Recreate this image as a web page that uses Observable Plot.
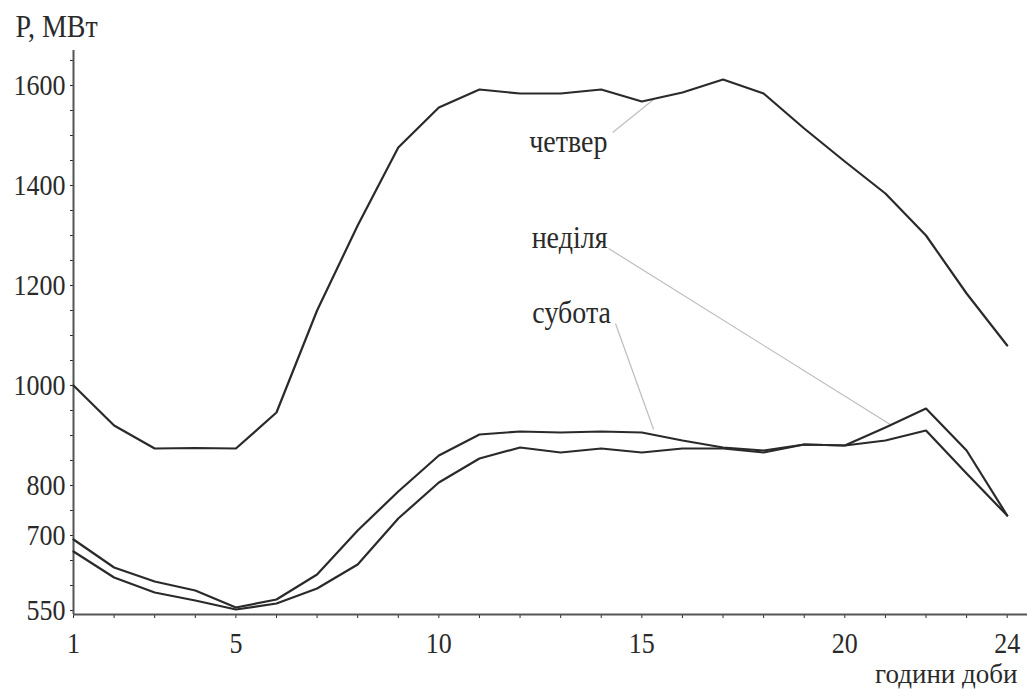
<!DOCTYPE html>
<html>
<head>
<meta charset="utf-8">
<script src="https://cdn.jsdelivr.net/npm/d3@7"></script>
<script src="https://cdn.jsdelivr.net/npm/@observablehq/plot@0.6"></script>
<style>
  html, body { margin: 0; padding: 0; background: #fff; }
  #chart svg { display: block; }
</style>
</head>
<body>
<div id="chart"></div>
<script>
// Hours of the day
const hours = [1,2,3,4,5,6,7,8,9,10,11,12,13,14,15,16,17,18,19,20,21,22,23,24];
// Load, MW
const chetver = [1000,920,874,875,874,946,1150,1320,1476,1556,1592,1584,1584,1592,1568,1586,1612,1584,1514,1448,1384,1300,1184,1080];
const subota  = [692,636,608,590,556,572,622,710,788,860,902,908,906,908,906,890,876,870,882,880,890,910,824,740];
const nedilia = [668,616,586,570,552,564,594,642,734,806,854,876,866,874,866,874,874,866,882,880,916,954,870,740];

const seriesNames = ["четвер", "субота", "неділя"];
const seriesValues = [chetver, subota, nedilia];

// Axis tick labels
const xTickLabels = [1, 5, 10, 15, 20, 24];
const yTickLabels = [550, 700, 800, 1000, 1200, 1400, 1600];
const yMinorStep = 50;

// Annotation labels (hour, MW) and leader lines (from label to curve)
const labelNames = ["четвер", "неділя", "субота"];
const labelX = [13.19, 13.22, 13.27];
const labelY = [1488, 1296, 1146];
const leaderX1 = [14.28, 14.18, 14.35];
const leaderY1 = [1506, 1274, 1124];
const leaderX2 = [15.29, 21.12, 15.29];
const leaderY2 = [1572, 922, 912];

const yLabel = "P, МВт";
const xLabel = "години доби";

const yDomain = [542, 1670];
const xDomain = [1, 24.5];

const rows = [];
seriesNames.forEach((name, si) => {
  hours.forEach((h, i) => rows.push({series: name, hour: h, value: seriesValues[si][i]}));
});
const labels = labelNames.map((n, i) => ({name: n, x: labelX[i], y: labelY[i]}));
const leaders = labelNames.map((n, i) => ({x1: leaderX1[i], y1: leaderY1[i], x2: leaderX2[i], y2: leaderY2[i]}));

const ink = "#2a2a2a";

const chart = Plot.plot({
  width: 1027,
  height: 689,
  marginLeft: 73,
  marginRight: 0,
  marginTop: 50,
  marginBottom: 75,
  style: {fontFamily: "'Liberation Serif', 'Times New Roman', serif", fontSize: "26px", color: ink, background: "#fff"},
  x: {domain: xDomain},
  y: {domain: yDomain},
  marks: [
    Plot.axisX({
      ticks: hours,
      tickSize: 4,
      tickPadding: 13,
      tickFormat: d => xTickLabels.includes(d) ? String(d) : "",
      label: null,
      stroke: ink,
      fontSize: 26
    }),
    Plot.axisY({
      ticks: d3.range(yTickLabels[0], 1651, yMinorStep),
      tickSize: 3,
      tickPadding: 5,
      tickFormat: d => yTickLabels.includes(d) ? String(d) : "",
      label: null,
      stroke: ink,
      fontSize: 26
    }),
    Plot.link(leaders, {x1: "x1", y1: "y1", x2: "x2", y2: "y2", stroke: "#bdbdbd", strokeWidth: 1.2}),
    Plot.ruleY([yDomain[0]], {stroke: "#555", strokeWidth: 2}),
    Plot.ruleX([xDomain[0]], {stroke: "#555", strokeWidth: 2}),
    Plot.line(rows, {x: "hour", y: "value", z: "series", stroke: ink, strokeWidth: 2.2, strokeLinejoin: "round"}),
    Plot.text(labels, {x: "x", y: "y", text: "name", fill: ink, fontSize: 28, textAnchor: "middle", lineAnchor: "middle"}),
    Plot.text([yLabel], {frameAnchor: "top-left", dx: -58, dy: -24, textAnchor: "start", lineAnchor: "middle", fill: ink, fontSize: 28}),
    Plot.text([xLabel], {frameAnchor: "bottom-right", dx: -10, dy: 60, textAnchor: "end", lineAnchor: "middle", fill: ink, fontSize: 27})
  ]
});

// The reference typography is slightly stretched vertically
chart.querySelectorAll("text").forEach(t => {
  if (t.textContent === xLabel) return;
  const tr = t.getAttribute("transform");
  if (tr) {
    t.setAttribute("transform", tr + " scale(1,1.15)");
  } else {
    const x = t.getAttribute("x") || 0, y = t.getAttribute("y") || 0;
    t.setAttribute("x", 0); t.setAttribute("y", 0);
    t.setAttribute("transform", `translate(${x},${y}) scale(1,1.15)`);
  }
});

document.getElementById("chart").appendChild(chart);
</script>
</body>
</html>
